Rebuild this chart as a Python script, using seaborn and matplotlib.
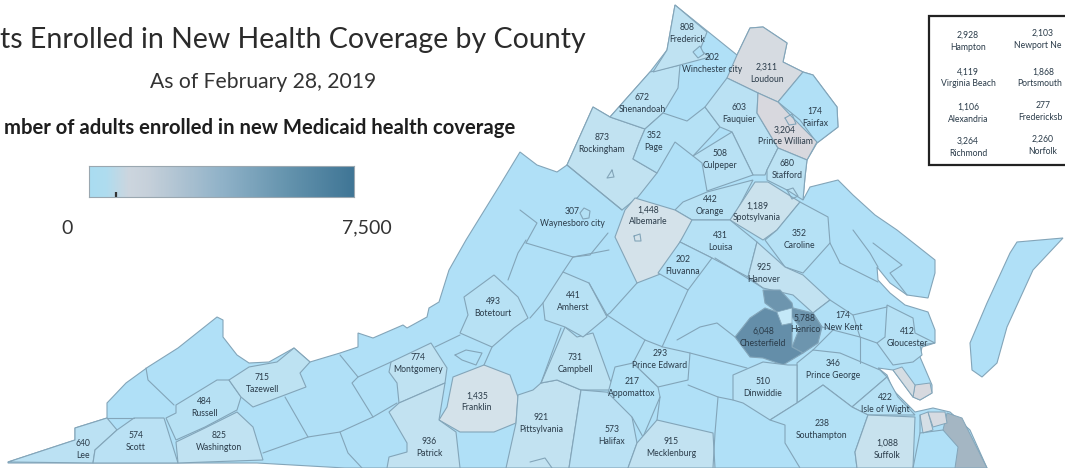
import numpy as np
import matplotlib
matplotlib.use("Agg")
import matplotlib.pyplot as plt
import seaborn as sns
from matplotlib.colors import LinearSegmentedColormap, Normalize
from matplotlib.patches import Polygon, Rectangle

county_names = ["Lee", "Scott", "Russell", "Washington", "Tazewell", "Montgomery", "Botetourt", "Franklin",
                "Patrick", "Pittsylvania", "Campbell", "Amherst", "Halifax", "Appomattox", "Prince Edward",
                "Mecklenburg", "Rockingham", "Shenandoah", "Page", "Frederick", "Winchester city", "Loudoun",
                "Fauquier", "Fairfax", "Prince William", "Culpeper", "Stafford", "Orange", "Spotsylvania",
                "Albemarle", "Waynesboro city", "Caroline", "Louisa", "Fluvanna", "Hanover", "New Kent",
                "Henrico", "Chesterfield", "Gloucester", "Prince George", "Dinwiddie", "Isle of Wight",
                "Southampton", "Suffolk"]
county_values = [640, 574, 484, 825, 715, 774, 493, 1435,
                 936, 921, 731, 441, 573, 217, 293,
                 915, 873, 672, 352, 808, 202, 2311,
                 603, 174, 3204, 508, 680, 442, 1189,
                 1448, 307, 352, 431, 202, 925, 174,
                 5788, 6048, 412, 346, 510, 422,
                 238, 1088]

# two names are cut by the right edge of the reference, kept as far as they show
inset_names = ["Hampton", "Newport Ne", "Virginia Beach", "Portsmouth",
               "Alexandria", "Fredericksb", "Richmond", "Norfolk"]
inset_values = [2928, 2103, 4119, 1868, 1106, 277, 3264, 2260]

scale_max = 7500
scale_marker = 764

# map geometry, traced in image pixels
state_outline = [(8, 462), (75, 440), (75, 428), (107, 418), (107, 403), (126, 383), (148, 367), (178, 348), (217, 317),
                 (223, 320), (223, 337), (237, 355), (249, 363), (269, 362), (294, 348), (310, 362), (340, 353),
                 (358, 347), (358, 333), (373, 338), (403, 325), (407, 328), (427, 317), (429, 308), (439, 302),
                 (449, 270), (466, 240), (500, 185), (520, 152), (537, 165), (557, 172), (567, 165), (593, 107),
                 (610, 117), (650, 72), (667, 50), (675, 5), (737, 55), (750, 28), (763, 27), (787, 43), (783, 62),
                 (803, 72), (813, 75), (837, 107), (838, 127), (817, 143), (807, 160), (805, 177), (803, 200),
                 (810, 187), (838, 180), (853, 195), (875, 215), (897, 230), (935, 260), (935, 273), (928, 298),
                 (907, 295), (890, 283), (877, 267), (878, 280), (890, 293), (905, 305), (928, 312), (935, 330),
                 (935, 343), (922, 347), (920, 357), (932, 385), (932, 393), (920, 400), (913, 397), (893, 370),
                 (878, 368), (887, 375), (893, 390), (915, 412), (933, 408), (950, 412), (970, 430), (987, 468),
                 (345, 468), (257, 463), (8, 463)]
eastern_shore = [(1017, 242), (1063, 238), (1033, 270), (1007, 327), (997, 363), (982, 377), (972, 370),
                 (970, 343), (987, 303), (1010, 253)]

county_shapes = [
    [(8, 462), (75, 440), (75, 428), (107, 418), (117, 430), (95, 450), (93, 463)],
    [(95, 450), (117, 430), (134, 418), (164, 418), (178, 463), (93, 463)],
    [(176, 405), (217, 380), (229, 380), (241, 397), (237, 410), (205, 427), (176, 440), (166, 418), (176, 413)],
    [(176, 442), (205, 428), (237, 412), (253, 427), (263, 460), (178, 463)],
    [(229, 380), (249, 367), (277, 362), (294, 348), (310, 362), (300, 373), (306, 387), (253, 407), (241, 397)],
    [(391, 362), (431, 343), (447, 368), (445, 383), (399, 403), (397, 383), (389, 372)],
    [(464, 297), (494, 275), (518, 297), (528, 318), (514, 328), (492, 347), (460, 333), (468, 315)],
    [(453, 377), (484, 365), (510, 375), (518, 397), (516, 423), (494, 432), (460, 432), (439, 420), (447, 407)],
    [(389, 412), (407, 443), (407, 452), (389, 457), (387, 468), (460, 468), (456, 432), (439, 420), (445, 383), (399, 403)],
    [(518, 395), (533, 390), (541, 383), (557, 380), (581, 390), (569, 468), (506, 468), (516, 423)],
    [(565, 327), (577, 337), (593, 333), (610, 380), (617, 390), (581, 390), (557, 380), (541, 383)],
    [(543, 303), (563, 272), (589, 283), (607, 317), (583, 337), (565, 327), (545, 320)],
    [(581, 390), (617, 393), (632, 417), (637, 443), (628, 468), (569, 468)],
    [(608, 393), (615, 367), (633, 363), (658, 387), (660, 397), (643, 437), (632, 417)],
    [(645, 340), (663, 347), (690, 353), (688, 380), (658, 387), (633, 363)],
    [(657, 420), (713, 433), (715, 468), (628, 468), (637, 443)],
    [(567, 165), (593, 107), (610, 117), (645, 129), (639, 143), (633, 159), (657, 173), (638, 197), (622, 210)],
    [(610, 117), (650, 72), (680, 65), (678, 88), (663, 113), (645, 129)],
    [(645, 129), (663, 113), (687, 121), (705, 107), (720, 127), (693, 156), (675, 142), (657, 173), (633, 159), (639, 143)],
    [(675, 5), (707, 32), (700, 50), (710, 57), (680, 65), (653, 72), (667, 50)],
    [(693, 52), (700, 46), (704, 54), (698, 58)],
    [(727, 78), (737, 55), (750, 28), (763, 27), (787, 43), (783, 62), (803, 72), (778, 102), (758, 93)],
    [(705, 107), (727, 78), (758, 93), (757, 113), (778, 148), (767, 170), (765, 175), (753, 175), (732, 132), (720, 127)],
    [(803, 72), (813, 75), (837, 107), (838, 127), (817, 143), (800, 120), (778, 102)],
    [(758, 93), (778, 102), (792, 117), (817, 142), (807, 160), (778, 148), (757, 113)],
    [(693, 156), (732, 132), (753, 175), (707, 191), (702, 163)],
    [(778, 148), (807, 160), (805, 177), (803, 200), (787, 190), (767, 180), (767, 170)],
    [(675, 210), (683, 202), (707, 192), (753, 180), (732, 220), (692, 220)],
    [(755, 182), (768, 182), (800, 202), (777, 230), (763, 240), (730, 220)],
    [(625, 210), (635, 198), (675, 210), (692, 220), (688, 230), (680, 242), (663, 273), (637, 283), (615, 237)],
    [(584, 208), (590, 211), (589, 218), (583, 219), (580, 213)],
    [(800, 202), (828, 217), (830, 243), (803, 273), (785, 267), (765, 240), (777, 230)],
    [(692, 220), (730, 220), (757, 242), (748, 277), (712, 258), (680, 242)],
    [(680, 242), (712, 258), (688, 290), (658, 273)],
    [(757, 242), (785, 267), (803, 275), (830, 300), (813, 313), (793, 295), (763, 288), (748, 277)],
    [(813, 313), (830, 300), (853, 315), (860, 337), (833, 330), (822, 327)],
    [(763, 290), (780, 290), (792, 303), (793, 308), (813, 313), (822, 327), (818, 343), (803, 353), (792, 347),
     (800, 327), (792, 317), (777, 312), (765, 303)],
    [(765, 308), (777, 312), (782, 325), (792, 323), (792, 347), (803, 353), (783, 365), (763, 358), (750, 357),
     (735, 337), (750, 318)],
    [(887, 305), (913, 318), (915, 333), (935, 343), (920, 345), (922, 355), (913, 362), (893, 365), (877, 343), (885, 337)],
    [(797, 363), (813, 350), (840, 353), (880, 370), (887, 377), (852, 407), (823, 385), (797, 403)],
    [(733, 375), (763, 362), (788, 365), (797, 365), (797, 403), (770, 420), (743, 403), (733, 400)],
    [(852, 407), (887, 377), (898, 397), (915, 415), (868, 415)],
    [(770, 420), (797, 403), (823, 385), (852, 407), (868, 415), (855, 452), (857, 468), (800, 468), (785, 443), (785, 425)],
    [(868, 415), (915, 417), (913, 468), (857, 468), (855, 452)],
]

# independent cities near Hampton Roads, None where the city is not drawn separately
inset_shapes = [
    [(915, 385), (930, 383), (932, 393), (920, 400), (913, 397)],
    [(893, 370), (902, 367), (915, 385), (913, 397)],
    [(947, 413), (962, 418), (987, 468), (955, 468), (958, 447), (943, 430)],
    [(920, 415), (928, 412), (933, 430), (923, 433)],
    None,
    None,
    None,
    [(928, 412), (945, 412), (947, 423), (933, 427)],
]
richmond_shape = [(777, 312), (792, 308), (792, 323), (782, 325)]

county_lines = [
    [(146, 368), (148, 380), (174, 405)],
    [(107, 418), (134, 418)],
    [(285, 397), (308, 437)],
    [(340, 355), (358, 377), (352, 383), (373, 417)],
    [(358, 377), (391, 362)],
    [(263, 453), (308, 437), (340, 432), (373, 417), (397, 403)],
    [(340, 432), (348, 453), (362, 468)],
    [(460, 335), (435, 347)],
    [(508, 280), (518, 253), (526, 240)],
    [(526, 243), (573, 257), (609, 250)],
    [(573, 257), (563, 272)],
    [(492, 347), (484, 365)],
    [(561, 328), (541, 383)],
    [(543, 303), (530, 318)],
    [(520, 210), (537, 223), (526, 243)],
    [(608, 233), (590, 255), (573, 257)],
    [(567, 165), (622, 210)],
    [(607, 315), (645, 340)],
    [(637, 283), (610, 313), (607, 315), (589, 283)],
    [(688, 290), (662, 347)],
    [(715, 258), (763, 288)],
    [(735, 337), (717, 323), (700, 327), (677, 340)],
    [(690, 353), (747, 368)],
    [(718, 397), (715, 433), (713, 468)],
    [(688, 385), (718, 397), (733, 400)],
    [(660, 397), (657, 420)],
    [(840, 263), (878, 282)],
    [(830, 243), (840, 263)],
    [(853, 315), (887, 307)],
    [(860, 337), (860, 363)],
    [(833, 330), (813, 350)],
    [(860, 337), (877, 343)],
    [(853, 230), (870, 253), (878, 267)],
    [(873, 243), (902, 265), (890, 273), (907, 295)],
    [(920, 433), (943, 430)],
    [(913, 468), (920, 433), (920, 415)],
    [(455, 355), (466, 350), (482, 353), (476, 365), (462, 360), (455, 355)],
    [(612, 170), (607, 178), (614, 177), (612, 170)],
    [(634, 236), (640, 234), (641, 241), (635, 241), (634, 236)],
    [(785, 118), (792, 114), (796, 124), (789, 125), (785, 118)],
    [(787, 190), (793, 188), (798, 196), (792, 199), (787, 190)],
    [(530, 462), (545, 458), (552, 468)],
]

label_value_pos = [(83, 443), (136, 436), (204, 402), (219, 436), (262, 377), (418, 357), (493, 301), (477, 396),
                   (429, 442), (541, 417), (575, 357), (573, 296), (612, 430), (632, 382), (660, 354),
                   (671, 441), (602, 137), (642, 98), (654, 135), (687, 28), (712, 57), (767, 67),
                   (739, 107), (815, 111), (785, 130), (720, 154), (787, 164), (710, 199), (757, 206),
                   (648, 210), (572, 211), (799, 233), (720, 236), (683, 260), (764, 268), (843, 315),
                   (805, 318), (763, 331), (907, 331), (833, 363), (763, 382), (885, 397),
                   (822, 424), (887, 443)]
inset_label_pos = [(968, 35), (1043, 33), (968, 72), (1043, 72), (968, 107), (1043, 105), (968, 141), (1043, 139)]
inset_name_x = [968, 1038, 968, 1040, 968, 1040, 968, 1043]

map_colors = [(0.0, "#afe0f7"), (0.05, "#b5e1f5"), (0.12, "#c2e2f1"), (0.19, "#d4e2ea"), (0.31, "#d6dbe1"),
              (0.43, "#d8d8de"), (0.55, "#a4b6c3"), (0.77, "#6e96ae"), (0.88, "#5080a0"), (1.0, "#3f7595")]
legend_colors = [(0.0, "#a9dcf0"), (0.06, "#aedcef"), (0.15, "#ccd5de"), (0.22, "#c6d0da"), (0.5, "#90b2c8"),
                 (0.75, "#6493ad"), (1.0, "#3f7595")]
edge_col = "#83a5b9"
text_col = "#2a3b49"

sns.set_theme(style="white")
plt.rcParams['font.family'] = ['Lato', 'DejaVu Sans']

cmap = LinearSegmentedColormap.from_list("enroll", map_colors)
legend_cmap = LinearSegmentedColormap.from_list("enroll_legend", legend_colors)
norm = Normalize(0, scale_max)

fig = plt.figure(figsize=(10.65, 4.68), dpi=100)
ax = fig.add_axes([0, 0, 1, 1])
ax.set_xlim(0, 1065)
ax.set_ylim(468, 0)
ax.axis("off")

ax.add_patch(Polygon(state_outline, facecolor=cmap(norm(100)), edgecolor=edge_col, lw=0.8))
ax.add_patch(Polygon(eastern_shore, facecolor=cmap(norm(100)), edgecolor=edge_col, lw=0.8))

for shape, val in zip(county_shapes, county_values):
    ax.add_patch(Polygon(shape, facecolor=cmap(norm(val)), edgecolor=edge_col, lw=0.8))

ax.add_patch(Polygon(richmond_shape, facecolor="#c4e8f8", edgecolor=edge_col, lw=0.5))
for shape, val in zip(inset_shapes, inset_values):
    if shape is not None:
        ax.add_patch(Polygon(shape, facecolor=cmap(norm(val)), edgecolor=edge_col, lw=0.7))

for line in county_lines:
    xs, ys = zip(*line)
    ax.plot(xs, ys, color=edge_col, lw=0.8, solid_joinstyle="round")

for name, val, (x, y) in zip(county_names, county_values, label_value_pos):
    ax.text(x, y, f"{val:,}", ha="center", va="center", fontsize=6.2, color=text_col)
    ax.text(x, y + 12, name, ha="center", va="center", fontsize=6.2, color=text_col)

# inset with the independent cities, runs off the right edge
ax.add_patch(Rectangle((929, 16), 150, 149, facecolor="white", edgecolor="#222222", lw=1.6))
for name, val, (x, y), name_x in zip(inset_names, inset_values, inset_label_pos, inset_name_x):
    ax.text(x, y, f"{val:,}", ha="center", va="center", fontsize=6.2, color=text_col)
    ax.text(name_x, y + 12, name, ha="center", va="center", fontsize=6.2, color=text_col)

# the reference crops these two at its left edge, keep the part it shows
ax.text(586, 40, "ts Enrolled in New Health Coverage by County", ha="right", va="center",
        fontsize=20.5, color="#2b2b2b")
ax.text(263, 82, "As of February 28, 2019", ha="center", va="center", fontsize=15.2, color="#333333")
ax.text(515, 128, "mber of adults enrolled in new Medicaid health coverage", ha="right", va="center",
        fontsize=14.6, fontweight="bold", color="#1e1e1e")

cax = fig.add_axes([89 / 1065, 1 - 197 / 468, 265 / 1065, 31 / 468])
gradient = np.linspace(0, scale_max, 256).reshape(1, -1)
sns.heatmap(gradient, ax=cax, cmap=legend_cmap, vmin=0, vmax=scale_max, cbar=False, xticklabels=False, yticklabels=False)
cax.vlines(scale_marker / scale_max * 256, 0.85, 1, color="#333333", lw=1.6)
for spine in cax.spines.values():
    spine.set_visible(True)
    spine.set_color("#9aa7b0")
    spine.set_linewidth(0.8)

ax.text(67, 228, "0", ha="center", va="center", fontsize=14, color="#333333")
ax.text(367, 228, f"{scale_max:,}", ha="center", va="center", fontsize=14, color="#333333")

fig.savefig("out.png", dpi=100)
